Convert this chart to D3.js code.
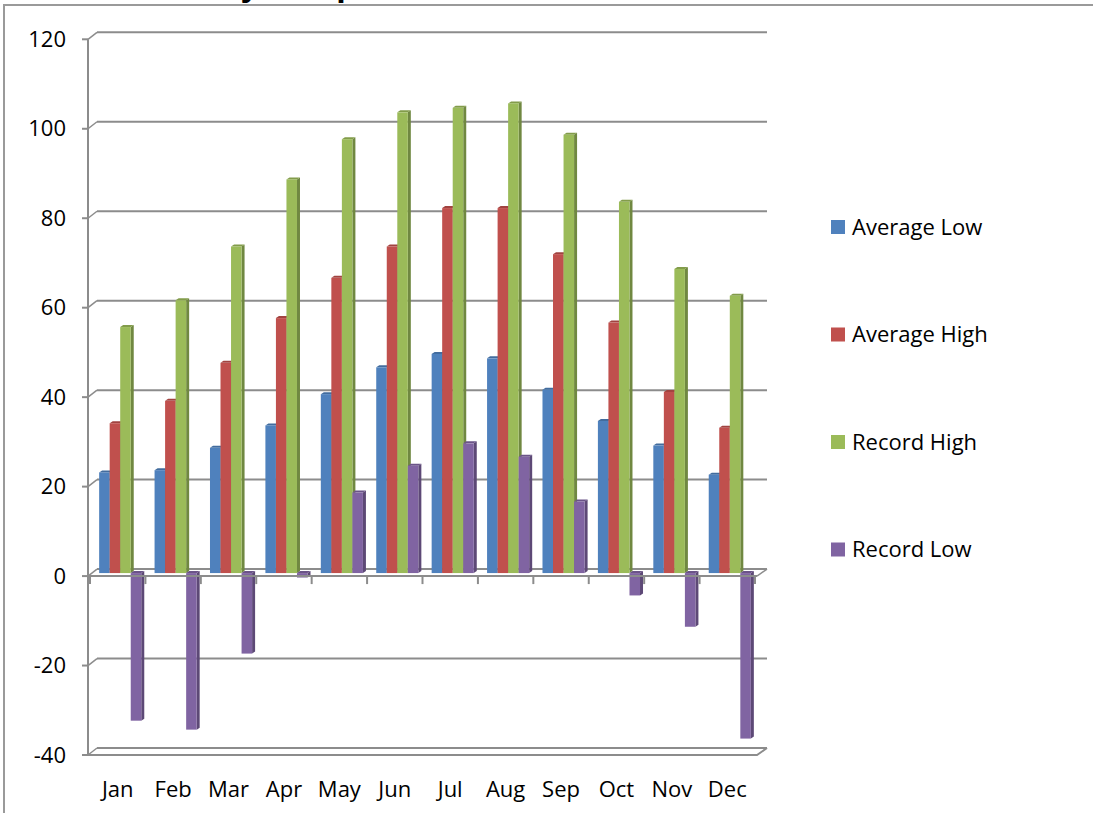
<!DOCTYPE html>
<html>
<head>
<meta charset="utf-8">
<script src="https://cdn.jsdelivr.net/npm/d3@7"></script>
<style>
  body { margin: 0; background: #fff; }
  svg { display: block; font-family: "Open Sans", sans-serif; }
  .tick-label { font-size: 22px; fill: #000; }
  .legend-label { font-size: 22px; fill: #000; }
</style>
</head>
<body>
<svg id="chart" width="1093" height="813"></svg>
<script>
// monthly temperatures
const months = ["Jan", "Feb", "Mar", "Apr", "May", "Jun", "Jul", "Aug", "Sep", "Oct", "Nov", "Dec"];
const seriesNames = ["Average Low", "Average High", "Record High", "Record Low"];
const averageLow = [22.5, 23, 28, 33, 40, 46, 49, 48, 41, 34, 28.5, 22];
const averageHigh = [33.5, 38.5, 47, 57, 66, 73, 81.6, 81.6, 71.3, 56, 40.5, 32.5];
const recordHigh = [55, 61, 73, 88, 97, 103, 104, 105, 98, 83, 68, 62];
const recordLow = [-33, -35, -18, -1, 18, 24, 29, 26, 16, -5, -12, -37];
const yTicks = [-40, -20, 0, 20, 40, 60, 80, 100, 120];
const colors = ["#4f81bd", "#c0504d", "#9bbb59", "#8064a2"];

const values = [averageLow, averageHigh, recordHigh, recordLow];

const svg = d3.select("#chart");

const plotLeft = 90, plotRight = 755;
const plotTop = 39.3, plotBottom = 755;
const wallDx = 9, wallDy = -7;   // back wall offset (3D depth)
const barDx = 2.5, barDy = -3;   // bars stand half way in
const sideDx = 3, sideDy = -2;   // depth of each column

const y = d3.scaleLinear().domain([-40, 120]).range([plotBottom, plotTop]);

const x = d3.scaleBand().domain(months).range([plotLeft, plotRight])
  .paddingInner(0.24).paddingOuter(0.12);

const xs = d3.scaleBand().domain(seriesNames).range([0, x.bandwidth()]);

// title (mostly clipped by the top of the picture)
svg.append("text")
  .attr("x", 129)
  .attr("y", -4.5)
  .attr("font-family", "Liberation Sans, Arial, sans-serif")
  .attr("font-weight", "bold")
  .attr("font-size", 34)
  .text("Monthly Temperatures");

// outer frame
svg.append("path")
  .attr("d", "M4,813 L4,5 L1093,5")
  .attr("fill", "none")
  .attr("stroke", "#9a9a9a")
  .attr("stroke-width", 2);

const grid = svg.append("g");
const gridColor = "#8c8c8c";
const axisLeft = plotLeft - 2;

// back wall gridlines and the short diagonals on the side wall
yTicks.forEach((t) => {
  grid.append("line")
    .attr("x1", axisLeft + wallDx).attr("x2", plotRight + 12)
    .attr("y1", y(t) + wallDy).attr("y2", y(t) + wallDy)
    .attr("stroke", gridColor).attr("stroke-width", 2);
  grid.append("line")
    .attr("x1", axisLeft).attr("x2", axisLeft + wallDx)
    .attr("y1", y(t)).attr("y2", y(t) + wallDy)
    .attr("stroke", gridColor).attr("stroke-width", 1.5);
  grid.append("line")
    .attr("x1", axisLeft - 6).attr("x2", axisLeft)
    .attr("y1", y(t)).attr("y2", y(t))
    .attr("stroke", gridColor).attr("stroke-width", 2);
});

// floor plate at the bottom
grid.append("path")
  .attr("d", `M${axisLeft},${y(-40)} L${plotRight + 2},${y(-40)} L${plotRight + 12},${y(-40) + wallDy}`)
  .attr("fill", "none").attr("stroke", gridColor).attr("stroke-width", 2);

// vertical axis line
grid.append("line")
  .attr("x1", axisLeft).attr("x2", axisLeft)
  .attr("y1", y(120)).attr("y2", y(-40))
  .attr("stroke", gridColor).attr("stroke-width", 2);

// y tick labels
svg.append("g").selectAll("text")
  .data(yTicks)
  .join("text")
  .attr("class", "tick-label")
  .attr("x", 66)
  .attr("y", (d) => y(d))
  .attr("dy", "0.35em")
  .attr("text-anchor", "end")
  .text((d) => d);

// bars
const shade = (c, k) => d3.color(c).darker(k).formatHex();
const bars = svg.append("g");
const y0 = y(0) + barDy;

months.forEach((m, i) => {
  seriesNames.forEach((s, j) => {
    const v = values[j][i];
    const bx = x(m) + xs(s) + barDx;
    const bw = xs.bandwidth();
    const yv = y(v) + barDy;
    const yt = Math.min(yv, y0), yb = Math.max(yv, y0);
    const g = bars.append("g");
    // side face
    g.append("path")
      .attr("d", `M${bx + bw},${yt} L${bx + bw + sideDx},${yt + sideDy} L${bx + bw + sideDx},${yb + sideDy} L${bx + bw},${yb} Z`)
      .attr("fill", shade(colors[j], 0.9));
    // top face
    g.append("path")
      .attr("d", `M${bx},${yt} L${bx + sideDx},${yt + sideDy} L${bx + bw + sideDx},${yt + sideDy} L${bx + bw},${yt} Z`)
      .attr("fill", shade(colors[j], 0.5));
    // front face
    g.append("rect")
      .attr("x", bx).attr("y", yt)
      .attr("width", bw).attr("height", Math.max(yb - yt, 0.5))
      .attr("fill", colors[j]);
  });
});

// horizontal axis at zero with category ticks
const xAxis = svg.append("g");
xAxis.append("line")
  .attr("x1", axisLeft).attr("x2", plotRight + 2)
  .attr("y1", y(0)).attr("y2", y(0))
  .attr("stroke", gridColor).attr("stroke-width", 2);
xAxis.append("line")
  .attr("x1", plotRight + 2).attr("x2", plotRight + 12)
  .attr("y1", y(0)).attr("y2", y(0) + wallDy)
  .attr("stroke", gridColor).attr("stroke-width", 1.5);
const boundaries = months.map((m) => x(m) - x.step() * x.paddingInner() / 2).concat([plotRight]);
xAxis.selectAll("line.tick")
  .data(boundaries)
  .join("line")
  .attr("class", "tick")
  .attr("x1", (d) => d).attr("x2", (d) => d)
  .attr("y1", y(0)).attr("y2", y(0) + 8)
  .attr("stroke", gridColor).attr("stroke-width", 2);

// month labels
svg.append("g").selectAll("text")
  .data(months)
  .join("text")
  .attr("class", "tick-label")
  .attr("x", (d) => x(d) + x.bandwidth() / 2)
  .attr("y", 797)
  .attr("text-anchor", "middle")
  .text((d) => d);

// legend
const legend = svg.append("g");
seriesNames.forEach((s, j) => {
  const ly = 227 + j * 107.5;
  legend.append("rect")
    .attr("x", 831).attr("y", ly - 7)
    .attr("width", 14).attr("height", 14)
    .attr("fill", colors[j]);
  legend.append("text")
    .attr("class", "legend-label")
    .attr("x", 852).attr("y", ly)
    .attr("dy", "0.35em")
    .text(s);
});
</script>
</body>
</html>
